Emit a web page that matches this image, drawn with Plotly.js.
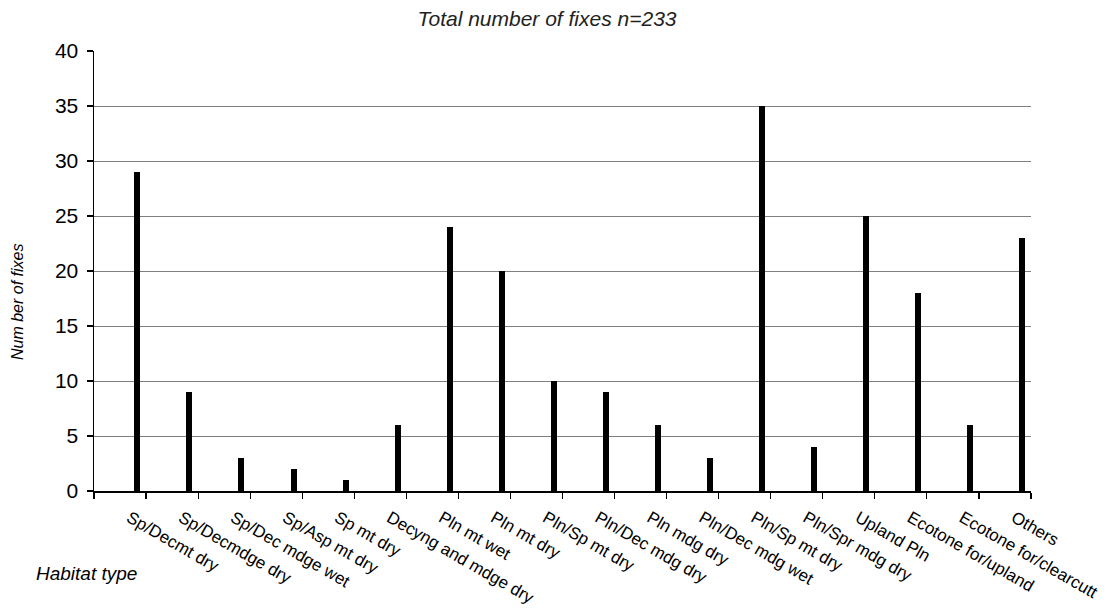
<!DOCTYPE html>
<html>
<head>
<meta charset="utf-8">
<script src="https://cdn.plot.ly/plotly-3.0.1.min.js"></script>
<style>html,body{margin:0;padding:0;background:#fff;}#chart{width:1107px;height:613px;}</style>
</head>
<body>
<div id="chart"></div>
<script>
const habitatTypes = [
  "Sp/Decmt dry", "Sp/Decmdge dry", "Sp/Dec mdge wet", "Sp/Asp mt dry", "Sp mt dry",
  "Decyng and mdge dry", "Pln mt wet", "Pln mt dry", "Pln/Sp mt dry", "Pln/Dec mdg dry",
  "Pln mdg dry", "Pln/Dec mdg wet", "Pln/Sp mt dry", "Pln/Spr mdg dry", "Upland Pln",
  "Ecotone for/upland", "Ecotone for/clearcutt", "Others"
];
const fixes = [29, 9, 3, 2, 1, 6, 24, 20, 10, 9, 6, 3, 35, 4, 25, 18, 6, 23];
const yTicks = [0, 5, 10, 15, 20, 25, 30, 35, 40];

const idx = habitatTypes.map((_, i) => i);

const trace = {
  type: 'bar',
  x: idx,
  y: fixes,
  width: 0.115,
  offset: 0.275,
  marker: {color: '#000000', line: {width: 0}},
  hoverinfo: 'skip'
};

const font = 'Liberation Sans, Arial, sans-serif';

const layout = {
  width: 1107, height: 613,
  margin: {l: 94, r: 76, t: 51, b: 122},
  paper_bgcolor: '#ffffff', plot_bgcolor: '#ffffff',
  showlegend: false,
  bargap: 0,
  title: {
    text: '<i>Total number of fixes n=233</i>',
    font: {family: font, size: 21, color: '#222'},
    xref: 'paper', x: 0.4835, xanchor: 'center',
    yref: 'container', y: 1 - 19/613, yanchor: 'middle'
  },
  xaxis: {
    range: [-0.5, 17.5],
    tickmode: 'array',
    tickvals: idx.map(i => i + 0.18),
    ticktext: habitatTypes,
    ticks: '',
    tickangle: 30,
    ticklabelstandoff: 9,
    tickfont: {family: font, size: 17, color: '#000'},
    showline: true, linecolor: '#000', linewidth: 1.5,
    showgrid: false, zeroline: false,
    minor: {ticks: 'outside', tick0: -0.5, dtick: 1, ticklen: 6, tickcolor: '#000', tickwidth: 1.2, showgrid: false}
  },
  yaxis: {
    range: [0, 40],
    tickmode: 'array',
    tickvals: yTicks,
    ticktext: yTicks.map(String),
    ticks: 'outside', ticklen: 6, tickcolor: '#000', tickwidth: 1.2,
    ticklabelstandoff: 4,
    tickfont: {family: font, size: 21, color: '#000'},
    showline: true, linecolor: '#000', linewidth: 1.5,
    showgrid: true, gridcolor: '#808080', gridwidth: 1,
    zeroline: false
  },
  annotations: [{
    text: '<i>Habitat type</i>',
    xref: 'paper', yref: 'paper',
    x: -60/937, y: -82/440, xanchor: 'left', yanchor: 'middle',
    showarrow: false,
    font: {family: font, size: 19, color: '#000'}
  }, {
    text: '<i>Num ber of fixes</i>',
    xref: 'paper', yref: 'paper',
    x: -77/937, y: (491 - 302)/440, xanchor: 'center', yanchor: 'middle',
    textangle: -90,
    showarrow: false,
    font: {family: font, size: 16, color: '#000'}
  }]
};

Plotly.newPlot('chart', [trace], layout, {displayModeBar: false, staticPlot: true});
</script>
</body>
</html>
